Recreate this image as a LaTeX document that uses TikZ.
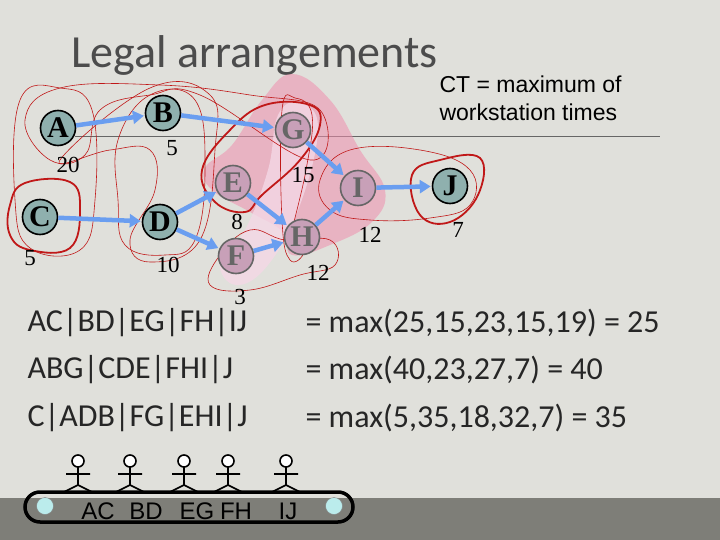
\documentclass[tikz,border=0pt]{standalone}
\usepackage{fontspec}
\setmainfont{Liberation Serif}
\newfontfamily\carfont{Carlito}
\newfontfamily\arifont{Liberation Sans}
\usetikzlibrary{arrows.meta}
\definecolor{bg}{HTML}{E0E0DB}
\definecolor{band}{HTML}{7E7E78}
\definecolor{teal}{HTML}{8FB0AE}
\definecolor{pk}{HTML}{C8A0B8}
\definecolor{arr}{HTML}{6A9EF0}
\definecolor{rd}{HTML}{C01818}
\definecolor{pkfill}{HTML}{F08FAE}
\definecolor{pklight}{HTML}{F4D8E6}
\begin{document}
\begin{tikzpicture}[x=1pt,y=-1pt,
 vtx/.style={circle,draw=black,line width=1.6pt,fill=teal,minimum size=35pt,inner sep=0pt,font=\fontsize{30}{30}\selectfont\bfseries},
 vtxp/.style={vtx,fill=pk,text=black!60,draw=black!60},
 w/.style={font=\fontsize{23}{23}\selectfont},
 ed/.style={-{Triangle[length=11pt,width=13pt]},line width=4.5pt,draw=arr,shorten >=1pt},
 thin/.style={draw=rd,line width=0.6pt},
 thick/.style={draw=rd,line width=1.8pt},
 row/.style={font=\carfont\fontsize{32}{32}\selectfont,anchor=west,text=black!85},
 man/.style={line width=1.6pt}]
\fill[bg] (0,0) rectangle (720,540);
\fill[band] (0,498) rectangle (720,540);
\draw[black!60,line width=0.7pt] (75,136) -- (660,136);
\node[font=\carfont\fontsize{46}{46}\selectfont,text=black!70,anchor=west] (title) at (68,55) {Legal arrangements};
\node[font=\arifont\fontsize{23}{28}\selectfont,align=left,anchor=north west] (ct) at (436,72) {CT = maximum of\\workstation times};
% pink blobs
\fill[pkfill,opacity=0.55] plot[smooth cycle,tension=0.7] coordinates {(292,74)(330,100)(360,150)(385,190)(372,222)(330,245)(292,255)(283,232)(250,212)(212,190)(205,168)(232,145)(262,100)};
\fill[pklight,opacity=0.8] plot[smooth cycle,tension=0.7] coordinates {(236,285)(220,262)(245,230)(268,170)(278,115)(300,103)(318,128)(300,205)(268,265)};
% thin outlines
\draw[thin] plot[smooth cycle,tension=0.7] coordinates {(15,200)(20,100)(60,88)(92,110)(95,200)(80,250)(30,248)};
\draw[thin] plot[smooth cycle,tension=0.7] coordinates {(25,120)(60,88)(160,85)(250,95)(320,110)(310,160)(200,95)(150,95)(100,110)(85,155)(50,160)};
\draw[thin] plot[smooth cycle,tension=0.7] coordinates {(118,140)(150,95)(195,100)(205,170)(195,240)(165,255)(125,245)(118,200)};
\draw[thin] plot[smooth cycle,tension=0.7] coordinates {(60,160)(150,88)(210,95)(215,150)(200,240)(150,262)(130,240)(155,190)(150,150)(110,150)};
\draw[thin] plot[smooth cycle,tension=0.7] coordinates {(210,285)(220,255)(250,230)(285,240)(330,240)(335,265)(300,275)(250,290)};
\draw[thin] plot[smooth cycle,tension=0.7] coordinates {(320,180)(350,150)(420,150)(470,170)(470,205)(430,218)(370,220)(330,210)};
\draw[thin] plot[smooth cycle,tension=0.7] coordinates {(282,110)(295,98)(312,115)(306,170)(290,240)(300,220)(305,250)(290,260)(282,220)};
% thick outlines
\draw[thick] plot[smooth cycle,tension=0.7] coordinates {(10,205)(25,183)(70,182)(80,210)(70,248)(30,250)(10,235)};
\draw[thick] plot[smooth cycle,tension=0.7] coordinates {(202,170)(230,130)(265,105)(310,105)(320,125)(300,160)(262,195)(245,212)(215,202)};
\draw[thick] plot[smooth cycle,tension=0.7] coordinates {(412,175)(440,160)(480,158)(478,195)(450,222)(420,215)};
% nodes
\node[vtx] (A) at (58,128) {A};
\node[vtx] (B) at (163,113) {B};
\node[vtxp] (G) at (293,130) {G};
\node[vtxp] (E) at (233,183) {E};
\node[vtxp] (I) at (358,188) {I};
\node[vtx] (J) at (450,186) {J};
\node[vtx] (C) at (40,217) {C};
\node[vtx] (D) at (160,222) {D};
\node[vtxp] (H) at (302,237) {H};
\node[vtxp] (F) at (236,256) {F};
\foreach \a/\b in {A/B,B/G,C/D,D/E,D/F,E/H,F/H,G/I,H/I,I/J} \draw[ed] (\a) -- (\b);
% weights
\node[w] (wA) at (68,165) {20};
\node[w] (wB) at (172,148) {5};
\node[w] (wC) at (30,258) {5};
\node[w] (wD) at (168,265) {10};
\node[w] (wE) at (237,222) {8};
\node[w] (wG) at (303,175) {15};
\node[w] (wI) at (370,235) {12};
\node[w] (wH) at (318,273) {12};
\node[w] (wF) at (240,297) {3};
\node[w] (wJ) at (458,230) {7};
% rows
\node[row] (r1) at (24,323) {AC|BD|EG|FH|IJ};
\node[row] (r2) at (24,370) {ABG|CDE|FHI|J};
\node[row] (r3) at (24,418) {C|ADB|FG|EHI|J};
\node[row] (s1) at (302,323) {= max(25,15,23,15,19) = 25};
\node[row] (s2) at (302,370) {= max(40,23,27,7) = 40};
\node[row] (s3) at (302,418) {= max(5,35,18,32,7) = 35};
% conveyor
\draw[line width=3.5pt,rounded corners=15pt] (25,492) rectangle (353,522);
\node[circle,draw=black!50,fill=teal!60!cyan!40,minimum size=17pt,inner sep=0pt] (p1) at (45,506) {};
\node[circle,draw=black!50,fill=teal!60!cyan!40,minimum size=17pt,inner sep=0pt] (p2) at (334,506) {};
\foreach \x/\t in {98/AC,146/BD,197/EG,236/FH,288/IJ}
  \node[font=\arifont\fontsize{24}{24}\selectfont] at (\x,511) {\t};
\foreach \x in {78,130,184,228,286} {
  \draw[man,fill=white] (\x,461) circle (6);
  \draw[man] (\x,467) -- (\x,485) (\x-12,474) -- (\x+12,474) (\x-14,492) -- (\x,485) -- (\x+14,492);
}
\end{tikzpicture}
\end{document}
